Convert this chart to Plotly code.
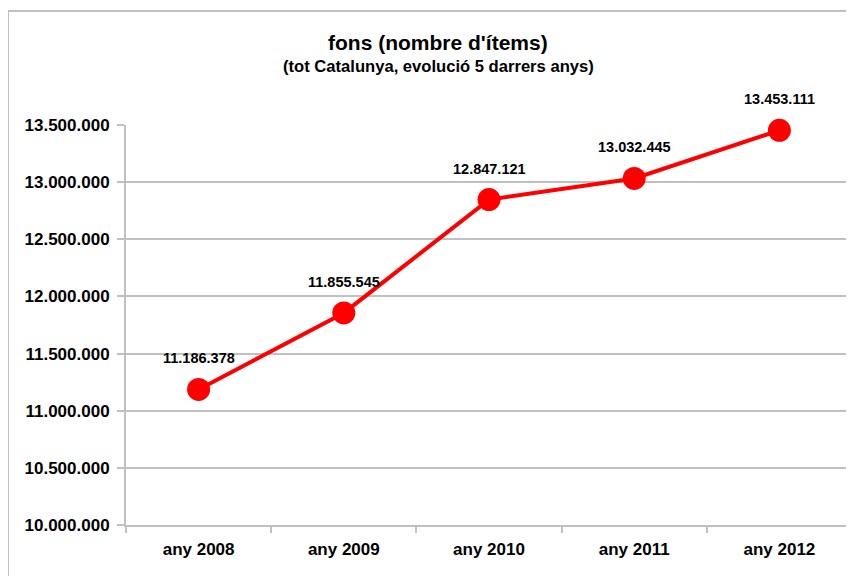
import plotly.graph_objects as go

categories = ["any 2008", "any 2009", "any 2010", "any 2011", "any 2012"]
values = [11186378, 11855545, 12847121, 13032445, 13453111]
y_ticks = [10000000, 10500000, 11000000, 11500000, 12000000, 12500000, 13000000, 13500000]

def fmt(v):
    return f"{v:,}".replace(",", ".")

FONT = "Liberation Sans, Arial, sans-serif"
GRAY = "#c0c0c0"

fig = go.Figure()
fig.add_trace(go.Scatter(
    x=categories, y=values, mode="lines+markers",
    line=dict(color="#ff0000", width=4),
    marker=dict(color="#ff0000", size=23),
    cliponaxis=False, hoverinfo="skip",
))

for c, v in zip(categories, values):
    fig.add_annotation(x=c, y=v, xref="x", yref="y", text=fmt(v), showarrow=False,
                       yanchor="middle", yshift=31,
                       font=dict(family=FONT, size=14.5, color="#000", weight="bold"))

fig.add_annotation(x=0.43, y=1.2075, xref="paper", yref="paper", text="fons (nombre d'ítems)",
                   showarrow=False, yanchor="middle",
                   font=dict(family=FONT, size=21, color="#000", weight="bold"))
fig.add_annotation(x=0.43, y=1.145, xref="paper", yref="paper",
                   text="(tot Catalunya, evolució 5 darrers anys)", showarrow=False, yanchor="middle",
                   font=dict(family=FONT, size=16.6, color="#000", weight="bold"))

# page body adds ~8px offset; compensate
W, H = 846, 568
L, T, B, R = 118, 117, 51, 2
pw, ph = W - L - R, H - T - B
fig.add_shape(type="rect", xref="paper", yref="paper",
              x0=(0 - L) / pw, x1=1.05, y0=-0.3, y1=1 + (T - 3) / ph,
              line=dict(color=GRAY, width=2), layer="below")

fig.update_layout(
    width=W, height=H,
    margin=dict(l=L, r=R, t=T, b=B, pad=0),
    paper_bgcolor="white", plot_bgcolor="white",
    showlegend=False,
    separators=",.",
    xaxis=dict(type="category", tickson="boundaries", ticks="outside", ticklen=6,
               tickcolor=GRAY, tickwidth=2, showline=True, linecolor=GRAY, linewidth=2,
               showgrid=False, range=[-0.5, 4.5], automargin=False, ticklabelstandoff=8,
               tickfont=dict(family=FONT, size=17, color="#000", weight="bold")),
    yaxis=dict(range=[10000000, 13500000], tickvals=y_ticks, ticktext=[fmt(v) for v in y_ticks],
               ticks="outside", ticklen=7, tickcolor=GRAY, tickwidth=2,
               showline=True, linecolor=GRAY, linewidth=2, automargin=False, ticklabelstandoff=4,
               showgrid=True, gridcolor=GRAY, gridwidth=1.5, zeroline=False,
               tickfont=dict(family=FONT, size=17, color="#000", weight="bold")),
)

fig.write_html("out.html")
